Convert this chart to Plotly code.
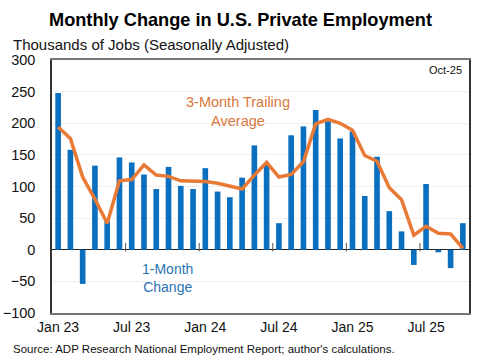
import plotly.graph_objects as go

months = ["Jan 23","Feb 23","Mar 23","Apr 23","May 23","Jun 23","Jul 23","Aug 23","Sep 23","Oct 23","Nov 23","Dec 23",
          "Jan 24","Feb 24","Mar 24","Apr 24","May 24","Jun 24","Jul 24","Aug 24","Sep 24","Oct 24","Nov 24","Dec 24",
          "Jan 25","Feb 25","Mar 25","Apr 25","May 25","Jun 25","Jul 25","Aug 25","Sep 25","Oct 25"]
monthly_change = [248, 158, -54, 133, 45, 146, 138, 119, 96, 131, 101, 96,
                  129, 92, 83, 114, 165, 135, 42, 181, 195, 221, 203, 176,
                  187, 85, 147, 61, 29, -24, 104, -4, -29, 42]
trailing_avg = [194, 176, 115, 80, 42, 109, 111, 134, 118, 116, 109, 108,
                108, 105, 101, 96, 118, 138, 115, 119, 139, 199, 206, 200,
                189, 149, 140, 98, 79, 23, 37, 26, 25, 2]
tick_idx = [0, 6, 12, 18, 24, 30]
tick_text = ["Jan 23", "Jul 23", "Jan 24", "Jul 24", "Jan 25", "Jul 25"]
y_ticks = [-100, -50, 0, 50, 100, 150, 200, 250, 300]

x = list(range(len(months)))
FONT = "Liberation Sans, Arial, sans-serif"

fig = go.Figure()
fig.add_trace(go.Bar(x=x, y=monthly_change, marker_color="#0B6FBF", width=0.46,
                     marker_line_width=0, hoverinfo="skip"))
fig.add_trace(go.Scatter(x=x, y=trailing_avg, mode="lines",
                         line=dict(color="#E87A35", width=3.5), hoverinfo="skip"))
# small boundary ticks on the zero line (between Jun/Jul and Dec/Jan)
fig.add_trace(go.Scatter(x=[t - 0.5 for t in tick_idx[1:]], y=[4] * (len(tick_idx) - 1),
                         mode="markers", hoverinfo="skip",
                         marker=dict(symbol="line-ns", size=6,
                                     line=dict(color="#555555", width=1))))

fig.update_layout(
    width=480, height=360,
    margin=dict(l=52, r=11, t=60, b=47, autoexpand=False),
    paper_bgcolor="white", plot_bgcolor="white",
    showlegend=False,
    font=dict(family=FONT, color="#111111", size=12),
    xaxis=dict(range=[-0.5, len(months) - 0.5], tickvals=tick_idx, ticktext=tick_text,
               showgrid=False, zeroline=False, showline=True, linecolor="#777777",
               linewidth=2, mirror=True, ticks="",
               tickfont=dict(size=14, family=FONT, color="#111111")),
    yaxis=dict(range=[-100, 300], tickvals=y_ticks, showgrid=True, gridcolor="#EFEFEF",
               gridwidth=1, zeroline=True, zerolinecolor="#222222", zerolinewidth=1,
               showline=True, linecolor="#333333", linewidth=1.5, mirror=True, ticks="",
               ticklabelstandoff=12,
               tickfont=dict(size=14.5, family=FONT, color="#111111")),
    annotations=[
        dict(text="<b>Monthly Change in U.S. Private Employment</b>", xref="paper", yref="paper",
             x=0.5, y=1, xanchor="center", yanchor="middle", showarrow=False,
             xshift=-20, yshift=40,
             font=dict(size=18.2, family=FONT, color="#000000")),
        dict(text="Thousands of Jobs (Seasonally Adjusted)", xref="paper", yref="paper",
             x=0, y=1, xanchor="left", yanchor="middle", xshift=-41, yshift=16,
             showarrow=False, font=dict(size=15, family=FONT, color="#111111")),
        dict(text="Source: ADP Research National Employment Report; author's calculations.",
             xref="paper", yref="paper", x=0, y=0, xanchor="left", yanchor="middle",
             xshift=-41, yshift=-36, showarrow=False,
             font=dict(size=11.5, family=FONT, color="#111111")),
        dict(text="Oct-25", xref="paper", yref="paper", x=1, y=1, xanchor="right", yanchor="middle",
             xshift=-5, yshift=-10, showarrow=False, font=dict(size=11, family=FONT, color="#111111")),
        dict(text="3-Month Trailing<br>Average", xref="x", yref="y", x=14.7, y=219,
             showarrow=False, font=dict(size=14.5, family=FONT, color="#D9773C"), align="center"),
        dict(text="1-Month<br>Change", xref="x", yref="y", x=8.9, y=-44,
             showarrow=False, font=dict(size=14, family=FONT, color="#2B74B3"), align="center"),
    ],
)

fig.write_html("out.html", config={"displayModeBar": False},
               post_script="document.body.style.margin='0';document.body.style.overflow='hidden';")
